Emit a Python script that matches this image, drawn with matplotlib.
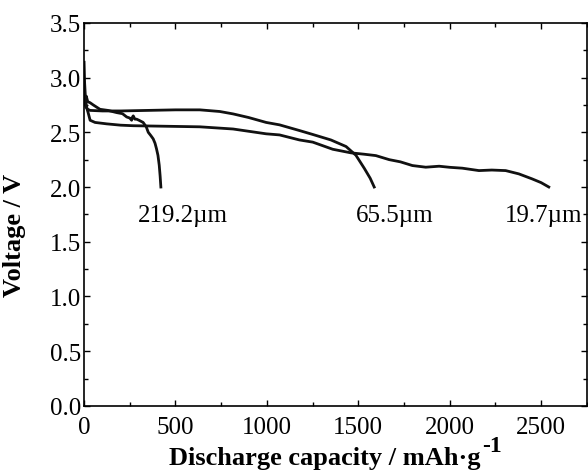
import numpy as np
import matplotlib.pyplot as plt
from matplotlib.ticker import MultipleLocator

plt.rcParams['font.family'] = ['Liberation Serif', 'DejaVu Serif']

# 219.2 um electrode
cap_a = [0, 5, 12, 20, 33, 50, 87, 130, 178, 210, 233, 250, 260, 265, 269, 278, 287, 300,
         323, 340, 351, 365, 378, 388, 396, 404, 411, 416, 420]
volt_a = [2.86, 2.80, 2.83, 2.78, 2.77, 2.75, 2.71, 2.70, 2.68, 2.67, 2.64, 2.63, 2.61, 2.64,
          2.65, 2.62, 2.62, 2.61, 2.59, 2.55, 2.50, 2.47, 2.44, 2.40, 2.35, 2.29, 2.20, 2.10, 2.00]

# 65.5 um electrode
cap_b = [0, 5, 10, 20, 33, 100, 200, 350, 500, 633, 742, 815, 900, 996, 1069, 1178, 1251,
         1350, 1433, 1487, 1533, 1565, 1587]
volt_b = [2.80, 2.76, 2.73, 2.71, 2.70, 2.695, 2.695, 2.70, 2.705, 2.705, 2.69, 2.668, 2.635,
          2.59, 2.568, 2.516, 2.48, 2.43, 2.37, 2.29, 2.17, 2.08, 2.00]

# 19.7 um electrode
cap_c = [0, 3, 8, 15, 22, 33, 60, 124, 200, 269, 451, 633, 815, 996, 1069, 1178, 1251, 1360,
         1460, 1530, 1596, 1669, 1730, 1796, 1869, 1942, 2000, 2069, 2160, 2230, 2306, 2378,
         2451, 2500, 2542]
volt_c = [3.14, 2.95, 2.80, 2.72, 2.68, 2.61, 2.59, 2.577, 2.565, 2.56, 2.555, 2.55, 2.53,
          2.486, 2.476, 2.43, 2.41, 2.345, 2.312, 2.30, 2.287, 2.25, 2.23, 2.196, 2.181, 2.19,
          2.18, 2.172, 2.15, 2.155, 2.15, 2.12, 2.074, 2.04, 2.00]

labels = ['219.2\u00b5m', '65.5\u00b5m', '19.7\u00b5m']
label_x = [540, 1697, 2515]
label_y = 1.74

fig = plt.figure(figsize=(5.88, 4.77), dpi=100)
ax = fig.add_axes([0.143, 0.147, 0.855, 0.803])

for cx, vy in [(cap_a, volt_a), (cap_b, volt_b), (cap_c, volt_c)]:
    ax.plot(cx, vy, color='#111111', linewidth=2.0)

for t, lx in zip(labels, label_x):
    ax.text(lx, label_y, t, fontsize=18, ha='center', va='center')

ax.set_xlim(0, 2750)
ax.set_ylim(0, 3.5)
ax.xaxis.set_major_locator(MultipleLocator(500))
ax.xaxis.set_minor_locator(MultipleLocator(250))
ax.yaxis.set_major_locator(MultipleLocator(0.5))
ax.yaxis.set_minor_locator(MultipleLocator(0.25))
ax.yaxis.set_major_formatter(plt.FormatStrFormatter('%.1f'))

ax.tick_params(which='both', direction='in', top=True, right=True, labelsize=18)
ax.tick_params(which='major', length=4.5, width=1.0)
ax.tick_params(which='minor', length=3, width=1.0)
ax.tick_params(axis='x', pad=7)
ax.tick_params(axis='y', pad=2)
for s in ax.spines.values():
    s.set_linewidth(1.2)

ax.set_xlabel('Discharge capacity / mAh\u00b7g', fontsize=19, fontweight='bold')
ax.xaxis.set_label_coords(0.479, -0.105)
ax.annotate('-1', xy=(1.0, 0.55), xycoords=ax.xaxis.label, xytext=(1, 0),
            textcoords='offset points', fontsize=17, fontweight='bold', va='bottom', ha='left')
ax.set_ylabel('Voltage / V', fontsize=19, fontweight='bold')
ax.yaxis.set_label_coords(-0.115, 0.447)

fig.savefig('out.png', dpi=100)
